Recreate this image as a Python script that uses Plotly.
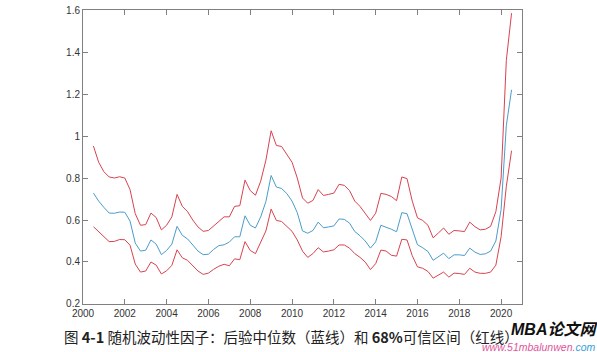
import plotly.graph_objects as go

start_year = 2000.5
step = 0.25

upper = [0.952, 0.875, 0.83, 0.805, 0.80, 0.806, 0.80, 0.745, 0.63, 0.575,
         0.578, 0.633, 0.612, 0.553, 0.575, 0.615, 0.722, 0.665, 0.640, 0.600,
         0.567, 0.546, 0.550, 0.572, 0.595, 0.615, 0.615, 0.665, 0.668, 0.790,
         0.740, 0.718, 0.785, 0.885, 1.025, 0.955, 0.950, 0.915, 0.875, 0.80,
         0.705, 0.68, 0.693, 0.745, 0.717, 0.722, 0.728, 0.770, 0.765, 0.740,
         0.69, 0.665, 0.63, 0.598, 0.632, 0.727, 0.722, 0.712, 0.692, 0.805,
         0.797, 0.69, 0.61, 0.598, 0.575, 0.515, 0.538, 0.562, 0.532, 0.55,
         0.548, 0.545, 0.590, 0.568, 0.553, 0.556, 0.570, 0.64, 0.80, 1.36,
         1.585]

median = [0.728, 0.69, 0.66, 0.633, 0.632, 0.638, 0.637, 0.595, 0.49, 0.452,
          0.456, 0.505, 0.485, 0.435, 0.455, 0.485, 0.570, 0.527, 0.510, 0.48,
          0.452, 0.435, 0.437, 0.46, 0.478, 0.482, 0.495, 0.52, 0.52, 0.62,
          0.575, 0.562, 0.615, 0.688, 0.812, 0.757, 0.75, 0.726, 0.69, 0.635,
          0.548, 0.537, 0.55, 0.59, 0.563, 0.567, 0.572, 0.605, 0.603, 0.585,
          0.545, 0.525, 0.50, 0.466, 0.496, 0.575, 0.567, 0.556, 0.544, 0.635,
          0.630, 0.55, 0.482, 0.468, 0.45, 0.408, 0.425, 0.442, 0.416, 0.434,
          0.434, 0.431, 0.466, 0.447, 0.436, 0.439, 0.452, 0.50, 0.65, 1.05,
          1.22]

lower = [0.568, 0.545, 0.52, 0.497, 0.498, 0.507, 0.506, 0.48, 0.39, 0.352,
         0.357, 0.40, 0.385, 0.343, 0.358, 0.384, 0.458, 0.42, 0.408, 0.384,
         0.357, 0.341, 0.347, 0.365, 0.38, 0.389, 0.382, 0.415, 0.411, 0.497,
         0.455, 0.440, 0.49, 0.548, 0.652, 0.598, 0.593, 0.570, 0.546, 0.505,
         0.452, 0.422, 0.44, 0.468, 0.448, 0.452, 0.458, 0.481, 0.481, 0.466,
         0.44, 0.422, 0.40, 0.364, 0.392, 0.457, 0.452, 0.432, 0.428, 0.508,
         0.505, 0.43, 0.377, 0.37, 0.355, 0.323, 0.336, 0.352, 0.328, 0.347,
         0.345, 0.341, 0.37, 0.352, 0.346, 0.346, 0.352, 0.385, 0.52, 0.76,
         0.93]

x_ticks = [2000, 2002, 2004, 2006, 2008, 2010, 2012, 2014, 2016, 2018, 2020]
y_ticks = [0.2, 0.4, 0.6, 0.8, 1.0, 1.2, 1.4, 1.6]
y_ticktext = ["0.2", "0.4", "0.6", "0.8", "1", "1.2", "1.4", "1.6"]

caption = ("图 <b>4-1</b> 随机波动性因子：后验中位数（蓝线）和 <b>68%</b>可信区间（红线）")

x = [start_year + step * i for i in range(len(median))]

RED = "#d8434f"
BLUE = "#4a9ccb"

fig = go.Figure()
fig.add_trace(go.Scatter(x=x, y=upper, mode="lines",
                         line=dict(color=RED, width=1), showlegend=False))
fig.add_trace(go.Scatter(x=x, y=median, mode="lines",
                         line=dict(color=BLUE, width=1), showlegend=False))
fig.add_trace(go.Scatter(x=x, y=lower, mode="lines",
                         line=dict(color=RED, width=1), showlegend=False))

axis_common = dict(showgrid=False, zeroline=False, showline=True,
                   linecolor="#808080", linewidth=1, ticks="inside",
                   ticklen=5, tickcolor="#808080", mirror="ticks",
                   ticklabeloverflow="allow",
                   tickfont=dict(family="Liberation Sans, Arial", size=10,
                                 color="#333333"))

fig.update_xaxes(range=[2000, 2021], tickvals=x_ticks,
                 ticktext=[str(v) for v in x_ticks], **axis_common)
fig.update_yaxes(range=[0.1999, 1.6002], tickvals=y_ticks,
                 ticktext=y_ticktext, **axis_common)

fig.add_annotation(xref="paper", yref="paper", x=-0.047, y=-0.11,
                   xanchor="left", yanchor="middle", showarrow=False,
                   text=caption,
                   font=dict(family="Noto Sans CJK SC", size=14.5,
                             color="#222222"))

fig.add_annotation(xref="paper", yref="paper", x=0.97, y=-0.052,
                   xanchor="left", yanchor="top", showarrow=False,
                   text="<b><i>MBA论文网</i></b>", bgcolor="white",
                   font=dict(family="Liberation Sans, Noto Sans CJK SC",
                             size=16, color="#111111"))
fig.add_annotation(xref="paper", yref="paper", x=1.17, y=-0.118,
                   xanchor="right", yanchor="top", showarrow=False,
                   text=("<i><span style='color:#e0559a'>www.51mbalunwen.</span>"
                         "<span style='color:#3aa0d8'>com</span></i>"),
                   font=dict(family="Liberation Sans", size=10.5))

fig.update_layout(width=597, height=352,
                  margin=dict(l=83, r=75, t=5, b=48),
                  paper_bgcolor="white", plot_bgcolor="white")

fig.write_html("out.html")
